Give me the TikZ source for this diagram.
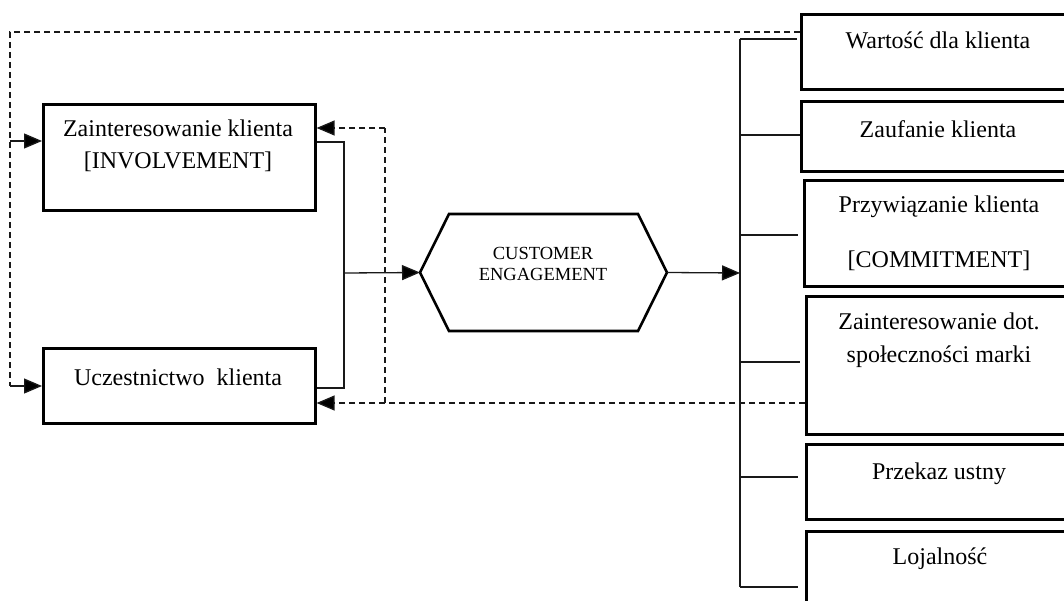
\documentclass[tikz,border=0pt]{standalone}
\usepackage{fontspec}
\setmainfont{Liberation Serif}
\usetikzlibrary{arrows.meta,calc}
\begin{document}
\begin{tikzpicture}[x=1pt,y=-1pt,
 box/.style={draw, line width=2.6pt, inner sep=0pt, anchor=north west},
 lbl/.style={font=\fontsize{24}{32}\selectfont, align=center, inner sep=0pt},
 con/.style={line width=1.3pt, draw=black!90},
 dsh/.style={con, dash pattern=on 6pt off 4pt},
 tip/.style={-{Triangle[length=18pt,width=15pt,fill=black]}},
]
\useasboundingbox (0,0) rectangle (1064,601);
\clip (0,0) rectangle (1064,601);
% left boxes
\node[box, minimum width=272pt, minimum height=106pt] (z) at (42,103) {};
\node[lbl] (zt) at (178,146) {Zainteresowanie klienta\\{[INVOLVEMENT]}};
\node[box, minimum width=272pt, minimum height=75pt] (u) at (42,347) {};
\node[lbl] (ut) at (178,377) {Uczestnictwo\ \ klienta};
% hexagon
\node[minimum width=247pt, minimum height=117pt, inner sep=0pt, outer sep=0pt] (ce) at (543.5,272.5) {};
\draw[line width=2.6pt, line join=miter] (ce.west) -- ([xshift=29pt]ce.north west) -- ([xshift=-29pt]ce.north east) -- (ce.east) -- ([xshift=-29pt]ce.south east) -- ([xshift=29pt]ce.south west) -- cycle;
\node[font=\fontsize{18.5}{21}\selectfont, align=center, inner sep=0pt] (cet) at (543,264) {CUSTOMER\\ENGAGEMENT};
% right boxes
\node[box, minimum width=276pt, minimum height=75pt] (r1) at (800,13) {};
\node[lbl] (r1t) at (938,40) {Wartość dla klienta};
\node[box, minimum width=276pt, minimum height=70pt] (r2) at (800,100) {};
\node[lbl] (r2t) at (938,129) {Zaufanie klienta};
\node[box, minimum width=273pt, minimum height=106pt] (r3) at (803,179) {};
\node[lbl] (r3t) at (939,233) {Przywiązanie klienta\\[23pt]{[COMMITMENT]}};
\node[box, minimum width=271pt, minimum height=138pt] (r4) at (805,295) {};
\node[lbl, font=\fontsize{24}{33}\selectfont] (r4t) at (939,340) {Zainteresowanie dot.\\społeczności marki};
\node[box, minimum width=271pt, minimum height=75pt] (r5) at (805,443) {};
\node[lbl] (r5t) at (939,474) {Przekaz ustny};
\node[box, minimum width=271pt, minimum height=110pt] (r6) at (805,530) {};
\node[lbl] (r6t) at (940,559) {Lojalność};
% outer dashed feedback
\coordinate (d1) at (10,32);
\coordinate (d2) at (10,386);
\coordinate (d3) at (10,141);
\draw[dsh] (r1.west |- d1) -- (d1) -- (d2);
\draw[con,tip] (d2) -- (d2 -| u.west);
\draw[con,tip] (d3) -- (d3 -| z.west);
% inner dashed feedback
\coordinate (e1) at (385,128);
\coordinate (e2) at (385,403);
\draw[dsh] (e2 -| r4.west) -- (e2) -- (e1);
\draw[dsh,tip] (e1) -- (e1 -| z.east);
\draw[dsh,tip] (e2) -- (e2 -| u.east);
% solid merge
\coordinate (s1) at (344,142);
\coordinate (s2) at (344,388);
\coordinate (s3) at (344,273);
\draw[con] (s1 -| z.east) -- (s1) -- (s2) -- (s2 -| u.east);
\draw[con,tip] (s3) -- (ce.west);
% trunk
\coordinate (ta) at (740,39);
\coordinate (tb) at (740,587);
\coordinate (tm) at (740,273);
\draw[con,tip] (ce.east) -- (tm);
\draw[con] (ta) -- (tb);
\coordinate (b1) at (740,39);
\coordinate (b2) at (740,135);
\coordinate (b3) at (740,235);
\coordinate (b4) at (740,362);
\coordinate (b5) at (740,477);
\coordinate (b6) at (740,587);
\draw[con] (b1) -- ([xshift=-3pt]b1 -| r1.west);
\draw[con] (b2) -- (b2 -| r2.west);
\draw[con] (b3) -- ([xshift=-5pt]b3 -| r3.west);
\draw[con] (b4) -- ([xshift=-5pt]b4 -| r4.west);
\draw[con] (b5) -- ([xshift=-7pt]b5 -| r5.west);
\draw[con] (b6) -- ([xshift=-7pt]b6 -| r6.west);
\end{tikzpicture}
\end{document}
